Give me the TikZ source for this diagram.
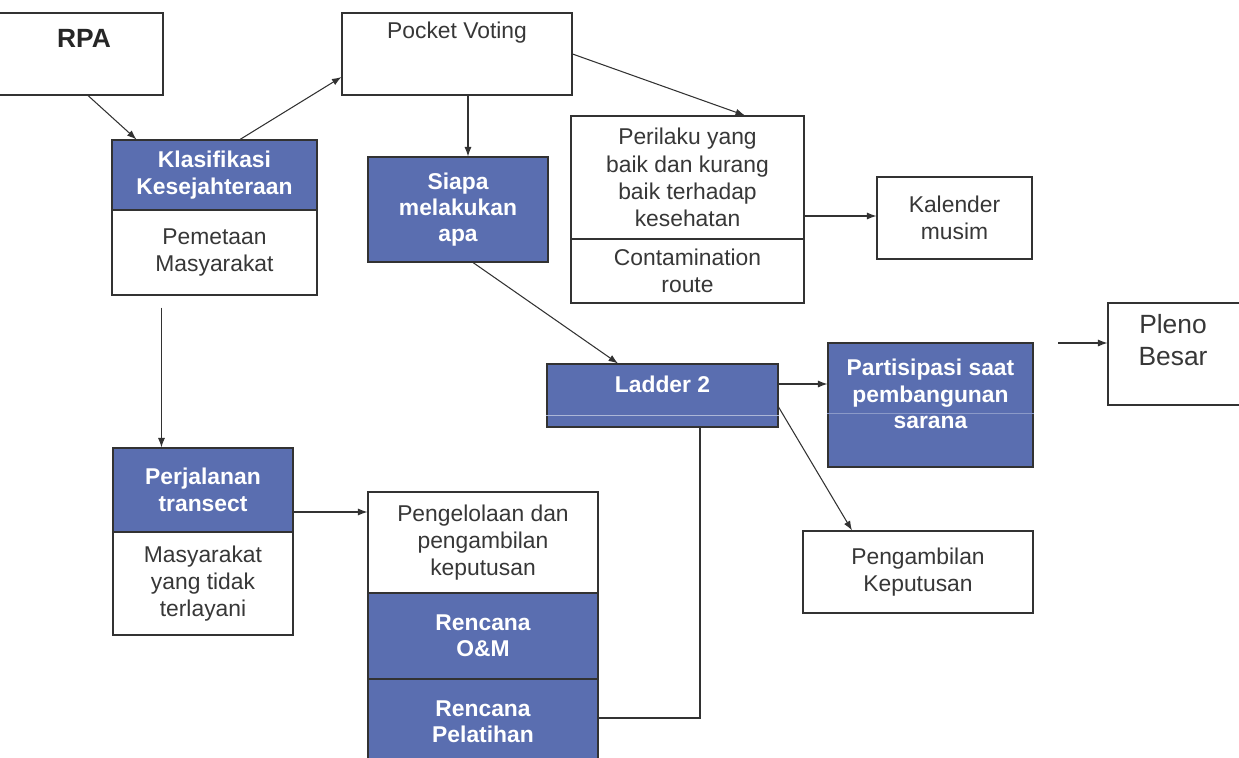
\documentclass[tikz,border=0pt]{standalone}
\usepackage{fontspec}
\setmainfont{Liberation Sans}
\usetikzlibrary{arrows.meta}

\definecolor{boxblue}{RGB}{90,110,176}
\definecolor{linegray}{RGB}{50,50,50}
\definecolor{txtgray}{RGB}{55,55,55}
\newcommand{\plainfont}{\fontsize{13}{15.5}\selectfont}
\newcommand{\boldfont}{\fontsize{13}{15}\selectfont\bfseries}

\begin{document}
\begin{tikzpicture}[x=0.2mm, y=-0.2mm,
	box/.style={draw=linegray, line width=0.6pt, fill=white, inner sep=0pt, align=center, text=txtgray, font=\plainfont},
	bluebox/.style={box, fill=boxblue, text=white, font=\boldfont},
	txt/.style={inner sep=0pt, align=center, text=txtgray, font=\plainfont},
	arr/.style={draw=linegray, line width=0.6pt, -{Latex[length=1.9mm, width=1.4mm]}}]
				\useasboundingbox (0,0) rectangle (1239,757);
				\clip (0,0) rectangle (1239,757);
				
				%top row
				\node (rpa) at (70,54) [box, minimum width=37.2mm, minimum height=16.4mm]{};
				\node (rpatext) at (84,38) [txt, text=black!85, font=\fontsize{15}{18}\selectfont\bfseries]{RPA};
				\node (pv) at (457,54) [box, minimum width=46mm, minimum height=16.4mm]{};
				\node (pvtext) at (457,33) [txt]{Pocket Voting};
				
				%left column
				\node (klas) at (214.5,175) [bluebox, minimum width=41mm, minimum height=14mm]{Klasifikasi\\Kesejahteraan};
				\node (pemetaan) at (214.5,252.5) [box, minimum width=41mm, minimum height=17mm]{Pemetaan\\Masyarakat};
				\node (perjalanan) at (203,490) [bluebox, minimum width=36mm, minimum height=16.8mm]{Perjalanan\\transect};
				\node (tidak) at (203,583.5) [box, minimum width=36mm, minimum height=20.6mm]{Masyarakat\\yang tidak\\terlayani};
				
				%middle
				\node (siapa) at (458,209.5) [bluebox, minimum width=36mm, minimum height=21mm]{Siapa\\melakukan\\apa};
				\node (perilaku) at (687.5,177.5) [box, minimum width=46.6mm, minimum height=24.6mm]{Perilaku yang\\baik dan kurang\\baik terhadap\\kesehatan};
				\node (route) at (687.5,271) [box, minimum width=46.6mm, minimum height=12.8mm]{Contamination\\route};
				\node (kalender) at (954.5,218) [box, minimum width=31mm, minimum height=16.4mm]{Kalender\\musim};
				\node (ladder) at (662.5,395.5) [bluebox, minimum width=46.2mm, minimum height=12.6mm]{};
				\node (partisipasi) at (930.5,405) [bluebox, minimum width=41mm, minimum height=24.8mm]{};
				%faint lines in the blue boxes
				\draw[boxblue!50!white, line width=0.5pt] ([yshift=2.4mm]ladder.south west) -- ([yshift=2.4mm]ladder.south east);
				\draw[boxblue!70!white, line width=0.4pt] ([yshift=-1.6mm]partisipasi.west) -- ([yshift=-1.6mm]partisipasi.east);
				\node (laddertext) at (662.5,384) [txt, text=white, font=\boldfont]{Ladder 2};
				\node (partisipasitext) at (930.5,394) [txt, text=white, font=\boldfont]{Partisipasi saat\\pembangunan\\sarana};
				\node (pleno) at (1175.5,354) [box, minimum width=27mm, minimum height=20.4mm]{};
				\node (plenotext) at (1173,340) [txt, font=\fontsize{15}{18}\selectfont]{Pleno\\Besar};
				
				%bottom
				\node (pengelolaan) at (483,542.5) [box, minimum width=46mm, minimum height=20.2mm]{Pengelolaan dan\\pengambilan\\keputusan};
				\node (om) at (483,636) [bluebox, minimum width=46mm, minimum height=17.2mm]{Rencana\\O\&M};
				\node (pelatihan) at (483,722) [bluebox, minimum width=46mm, minimum height=17.2mm]{Rencana\\Pelatihan};
				\node (pengambilan) at (918,572) [box, minimum width=46mm, minimum height=16.4mm]{Pengambilan\\Keputusan};
				
				%arrows
				\draw[arr] ([xshift=3.6mm]rpa.south) -- ([xshift=5mm]klas.north west);
				\draw[arr] ([xshift=5.1mm]klas.north) -- ([yshift=-4.6mm]pv.west);
				\draw[arr] ([xshift=2.2mm]pv.south) -- ([xshift=2.2mm]pv.south |- siapa.north);
				\draw[arr] (pv.east) -- ([xshift=11.5mm]perilaku.north);
				\draw[arr] ([yshift=-7.7mm]perilaku.east) -- ([yshift=-7.7mm]perilaku.east -| kalender.west);
				\draw[arr] ([xshift=3mm]siapa.south) -- ([xshift=-8.9mm]ladder.north);
				\draw[arr] ([yshift=2.3mm]ladder.east) -- ([yshift=2.3mm]ladder.east -| partisipasi.west);
				\draw[arr] ([yshift=-2.3mm]ladder.east) -- ([xshift=-13.2mm]pengambilan.north);
				\coordinate (plenoin) at (1058,343);
				\draw[arr] (plenoin) -- (plenoin -| pleno.west);
				\draw[arr, shorten <=2.4mm] ([xshift=10mm]pemetaan.south west) -- ([xshift=10mm]pemetaan.south west |- perjalanan.north);
				\draw[arr] ([yshift=-4.4mm]perjalanan.east) -- ([yshift=-4.4mm]perjalanan.east -| pengelolaan.west);
				\draw[draw=linegray, line width=0.6pt] ([yshift=0.8mm]pelatihan.east) -| ([xshift=7.5mm]ladder.south);
			\end{tikzpicture}
\end{document}
